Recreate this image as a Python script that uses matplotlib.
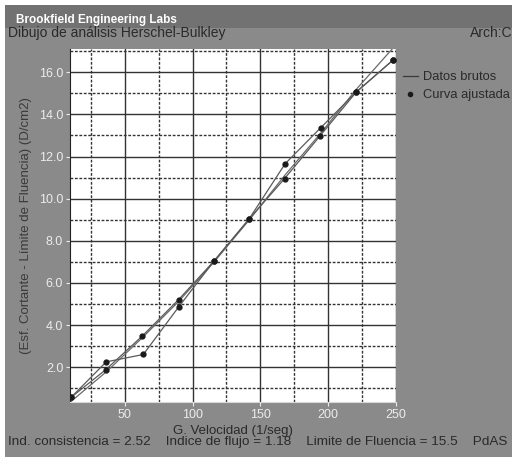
import matplotlib
matplotlib.use("Agg")
import matplotlib.pyplot as plt
from matplotlib.lines import Line2D
from matplotlib.patches import Rectangle

plt.rcParams['font.family'] = ['Liberation Sans', 'DejaVu Sans']

# raw readings, ramp up then ramp down (speed 1/seg, stress - yield D/cm2)
vel_up = [10.5, 36.0, 63.0, 89.8, 115.9, 141.5, 168.4, 194.5, 220.8, 247.6]
esf_up = [0.57, 1.88, 3.48, 5.21, 7.04, 9.01, 11.66, 13.36, 15.06, 16.56]
vel_down = [247.6, 220.8, 194.0, 167.9, 141.5, 115.9, 89.8, 63.7, 36.3, 10.5]
esf_down = [16.56, 15.06, 12.97, 10.95, 9.01, 7.04, 4.86, 2.60, 2.25, 0.57]

# fitted Herschel-Bulkley curve
vel_fit = [10.0, 36.8, 63.0, 89.5, 116.0, 142.0, 168.0, 194.5, 221.0, 250.0]
esf_fit = [0.35, 1.8, 3.4, 5.1, 7.0, 9.0, 11.1, 13.1, 15.2, 17.3]

x_major = [50, 100, 150, 200, 250]
x_minor = [25, 75, 125, 175, 225]
y_major = [2, 4, 6, 8, 10, 12, 14, 16]
y_minor = [1, 3, 5, 7, 9, 11, 13, 15, 17]

# fit results shown under the chart
resultados = ['Ind. consistencia = 2.52', 'Indice de flujo = 1.18',
              'Limite de Fluencia = 15.5', 'PdAS']

fondo = '#8a8a8a'
oscuro = '#2a2a2a'
fig = plt.figure(figsize=(5.12, 4.59), dpi=100)
fig.patch.set_facecolor('white')
fig.patches.append(Rectangle((0.01, 0.004), 0.99, 0.985, transform=fig.transFigure,
                             facecolor=fondo, edgecolor='none', zorder=-2))
fig.patches.append(Rectangle((0.01, 0.94), 0.99, 0.049, transform=fig.transFigure,
                             facecolor='#727272', edgecolor='none', zorder=-1))

ax = fig.add_axes([0.137, 0.124, 0.636, 0.769])
ax.set_facecolor('white')

for v in x_major:
    ax.axvline(v, color='#333333', lw=1.0, zorder=1)
for v in x_minor:
    ax.axvline(v, color='#333333', lw=1.0, ls=(0, (2, 1.2)), zorder=1)
for v in y_major:
    ax.axhline(v, color='#333333', lw=1.0, zorder=1)
for v in y_minor:
    ax.axhline(v, color='#333333', lw=1.0, ls=(0, (2, 1.2)), zorder=1)

ax.plot(vel_fit, esf_fit, color='#6a6a6a', lw=0.9, zorder=2)
ax.plot(vel_up, esf_up, color='#5a5a5a', lw=0.9, marker='o', ms=3.5,
        mfc='#1a1a1a', mec='#1a1a1a', zorder=3)
ax.plot(vel_down, esf_down, color='#5a5a5a', lw=0.9, marker='o', ms=3.5,
        mfc='#1a1a1a', mec='#1a1a1a', zorder=3)

ax.set_xlim(9.7, 250)
ax.set_ylim(0.34, 17.1)
ax.set_xticks(x_major)
ax.set_xticklabels([str(v) for v in x_major])
ax.set_yticks(y_major)
ax.set_yticklabels(['%.1f' % v for v in y_major])
ax.tick_params(colors='#ececec', labelsize=9, length=3, width=0.8, pad=2)
for s in ['top', 'right']:
    ax.spines[s].set_visible(False)
ax.spines['left'].set_color('#222222')
ax.spines['bottom'].set_color('#d8d8d8')

ax.set_xlabel('G. Velocidad (1/seg)', fontsize=9.5, color=oscuro, labelpad=3)
ax.set_ylabel('(Esf. Cortante - L\u00edmite de Fluencia) (D/cm2)', fontsize=9.5,
              color='#3a3a3a', labelpad=5)

handles = [Line2D([], [], color='#3a3a3a', lw=0.9),
           Line2D([], [], color='none', marker='o', ms=3, mfc='#1a1a1a', mec='#1a1a1a')]
fig.legend(handles, ['Datos brutos', 'Curva ajustada'], loc='upper left',
           bbox_to_anchor=(0.765, 0.87), frameon=False, fontsize=9.3,
           handlelength=1.1, handletextpad=0.4, labelspacing=0.45,
           labelcolor=oscuro)

fig.text(0.032, 0.957, 'Brookfield Engineering Labs', fontsize=8.5, color='white',
         fontweight='bold', va='center')
fig.text(0.016, 0.928, 'Dibujo de an\u00e1lisis Herschel-Bulkley', fontsize=10,
         color=oscuro, va='center')
fig.text(0.918, 0.928, 'Arch:C', fontsize=10, color=oscuro, va='center')
fig.text(0.016, 0.037, '    '.join(resultados), fontsize=9.7, color=oscuro, va='center')

fig.savefig('out.png', dpi=100)
